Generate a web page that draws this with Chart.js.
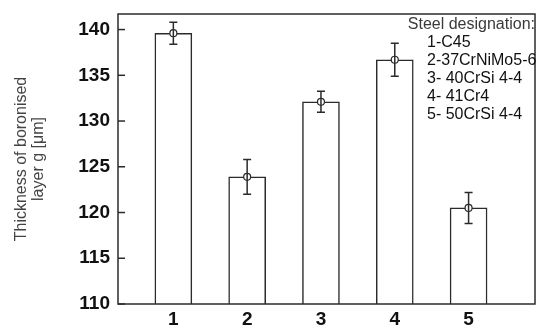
<!DOCTYPE html>
<html>
<head>
<meta charset="utf-8">
<script src="https://cdn.jsdelivr.net/npm/chart.js@4.4.1/dist/chart.umd.min.js"></script>
<style>
  html, body { margin: 0; padding: 0; background: #fff; }
  #wrap { width: 537px; height: 328px; }
</style>
</head>
<body>
<div id="wrap"><canvas id="boronChart" width="537" height="328"></canvas></div>
<script>
// Steel grades (x positions) and measured layer thickness
const steelNumbers = [1, 2, 3, 4, 5];
const thickness = [139.6, 123.9, 132.1, 136.7, 120.5];
const thicknessError = [1.2, 1.9, 1.15, 1.8, 1.7];
const yTicks = [110, 115, 120, 125, 130, 135, 140];
const legendTitle = 'Steel designation:';
const legendItems = ['1-C45', '2-37CrNiMo5-6', '3- 40CrSi 4-4', '4- 41Cr4', '5- 50CrSi 4-4'];

const lineColor = '#2b2b2b';

// Frame, inward tick marks, error bars and the designation list
const decorations = {
    id: 'decorations',
    afterDatasetsDraw(chart) {
        const ctx = chart.ctx;
        const area = chart.chartArea;
        const xs = chart.scales.x;
        const ys = chart.scales.y;
        ctx.save();
        ctx.strokeStyle = lineColor;
        ctx.lineWidth = 1.5;

        // error bars
        steelNumbers.forEach((n, i) => {
            const x = xs.getPixelForValue(n);
            const yTop = ys.getPixelForValue(thickness[i] + thicknessError[i]);
            const yBot = ys.getPixelForValue(thickness[i] - thicknessError[i]);
            ctx.beginPath();
            ctx.moveTo(x, yTop); ctx.lineTo(x, yBot);
            ctx.moveTo(x - 4, yTop); ctx.lineTo(x + 4, yTop);
            ctx.moveTo(x - 4, yBot); ctx.lineTo(x + 4, yBot);
            ctx.stroke();
        });

        // box around plot
        ctx.strokeRect(area.left, area.top, area.right - area.left, area.bottom - area.top);

        // y ticks pointing inward
        yTicks.forEach(v => {
            const y = ys.getPixelForValue(v);
            ctx.beginPath();
            ctx.moveTo(area.left, y);
            ctx.lineTo(area.left + 7, y);
            ctx.stroke();
        });

        // designation list in the upper right corner
        ctx.fillStyle = '#3a3a3a';
        ctx.font = '16px "Liberation Sans", Arial, sans-serif';
        ctx.textBaseline = 'middle';
        ctx.textAlign = 'right';
        ctx.fillText(legendTitle, area.right, 25);
        ctx.textAlign = 'left';
        ctx.fillStyle = '#111';
        legendItems.forEach((t, i) => {
            ctx.fillText(t, 427, 43 + i * 18);
        });
        ctx.restore();
    }
};

// Function to create the bar chart
function createChart() {
    const ctx = document.getElementById('boronChart').getContext('2d');

    new Chart(ctx, {
        type: 'bar',
        data: {
            datasets: [{
                label: 'Thickness',
                data: steelNumbers.map((n, i) => ({ x: n, y: thickness[i] })),
                backgroundColor: '#ffffff',
                borderColor: lineColor,
                borderWidth: 1.5,
                barThickness: 37,
                base: 110,
                order: 2
            }, {
                type: 'line',
                label: 'Mean',
                data: steelNumbers.map((n, i) => ({ x: n, y: thickness[i] })),
                showLine: false,
                pointRadius: 3.5,
                pointBackgroundColor: '#ffffff',
                pointBorderColor: lineColor,
                pointBorderWidth: 1.2,
                order: 1
            }]
        },
        options: {
            responsive: false,
            animation: false,
            layout: { autoPadding: false, padding: { top: 14, right: 2, left: 0, bottom: 0 } },
            plugins: {
                legend: { display: false },
                tooltip: { enabled: false }
            },
            scales: {
                x: {
                    type: 'linear',
                    offset: false,
                    min: 0.25,
                    max: 5.9,
                    grid: { display: false, drawTicks: false },
                    border: { display: false },
                    afterBuildTicks: axis => {
                        axis.ticks = steelNumbers.map(v => ({ value: v }));
                    },
                    ticks: {
                        color: '#111',
                        padding: 4,
                        font: { family: '"Liberation Sans", Arial, sans-serif', size: 19, weight: 'bold' }
                    },
                    afterFit: axis => {
                        axis.height = 24;
                        axis.paddingLeft = 0;
                        axis.paddingRight = 0;
                    }
                },
                y: {
                    min: 110,
                    max: 141.7,
                    grid: { display: false, drawTicks: false },
                    border: { display: false },
                    afterBuildTicks: axis => {
                        axis.ticks = yTicks.map(v => ({ value: v }));
                    },
                    ticks: {
                        color: '#111',
                        padding: 8,
                        font: { family: '"Liberation Sans", Arial, sans-serif', size: 19, weight: 'bold' }
                    },
                    title: {
                        display: true,
                        text: ['Thickness of boronised', 'layer g [\u03bcm]'],
                        color: '#444',
                        padding: { top: 13, bottom: 13 },
                        font: { family: '"Liberation Sans", Arial, sans-serif', size: 16, lineHeight: 1.05 }
                    },
                    afterFit: axis => {
                        axis.width = 118;
                        axis.paddingTop = 0;
                        axis.paddingBottom = 0;
                    }
                }
            }
        },
        plugins: [decorations]
    });
}

window.onload = createChart;
</script>
</body>
</html>
